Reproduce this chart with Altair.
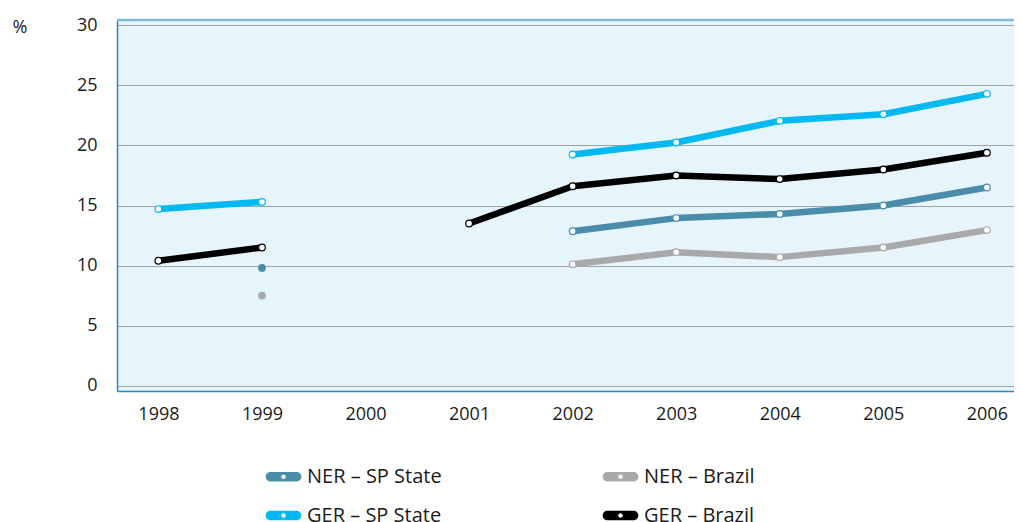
import altair as alt
import pandas as pd

years = [1998, 1999, 2000, 2001, 2002, 2003, 2004, 2005, 2006]
ner_sp = [None, 9.8, None, None, 12.85, 13.95, 14.3, 15.0, 16.5]
ner_br = [None, 7.5, None, None, 10.1, 11.1, 10.7, 11.5, 12.95]
ger_sp = [14.7, 15.3, None, None, 19.25, 20.25, 22.05, 22.6, 24.3]
ger_br = [10.4, 11.5, None, 13.5, 16.6, 17.5, 17.2, 18.0, 19.4]

series_names = ["NER – SP State", "NER – Brazil", "GER – SP State", "GER – Brazil"]
series_values = [ner_sp, ner_br, ger_sp, ger_br]
series_colors = ["#4a8dab", "#a9a9ac", "#00b9f1", "#000000"]
y_ticks = [0, 5, 10, 15, 20, 25, 30]

rows = []
for name, col, vals in zip(series_names, series_colors, series_values):
    seg = 0
    prev = None
    for yr, v in zip(years, vals):
        if v is None:
            if prev is not None:
                seg += 1
            prev = None
            continue
        rows.append({"year": yr, "value": v, "series": name, "col": col,
                     "seg": f"{name}-{seg}"})
        prev = v
df = pd.DataFrame(rows)
counts = df.groupby("seg")["year"].transform("count")
df["isolated"] = counts == 1
lines_df = df[~df["isolated"]]
iso_df = df[df["isolated"]]

x_scale = alt.Scale(domain=[1997.6, 2006.262], nice=False, zero=False)
y_scale = alt.Scale(domain=[-0.45, 30.45], nice=False, zero=False)
color_scale = alt.Scale(domain=series_names, range=series_colors)

capsule = ("M -0.75 -0.27 L 0.75 -0.27 A 0.27 0.27 0 0 1 0.75 0.27 "
           "L -0.75 0.27 A 0.27 0.27 0 0 1 -0.75 -0.27 Z "
           "M 0.13 0 A 0.13 0.13 0 0 0 -0.13 0 A 0.13 0.13 0 0 0 0.13 0 Z")

font = "Open Sans"
fs = 18

x_enc = alt.X("year:Q", scale=x_scale,
              axis=alt.Axis(values=years, format="d", title=None, grid=False, ticks=False,
                            domainColor="#2a8db8", domainWidth=1.5, labelFontSize=fs,
                            labelPadding=14, labelColor="#1a1a1a", labelFont=font))
y_enc = alt.Y("value:Q", scale=y_scale,
              axis=alt.Axis(values=y_ticks, title="%", titleAngle=0, titleX=-105, titleY=-2,
                            titleAlign="left", titleBaseline="top", titleFontSize=fs,
                            titleFontWeight="normal", titleFont=font, titleColor="#1a1a1a",
                            grid=True, gridColor="#a2a2a4", gridWidth=1, ticks=False,
                            domainColor="#2a8db8", domainWidth=1.5, labelFontSize=fs,
                            labelPadding=20, labelColor="#1a1a1a", labelFont=font))

legend = alt.Legend(
    title=None, orient="none", legendX=149, legendY=439, columns=2, direction="horizontal",
    symbolType=capsule, symbolSize=1225, symbolStrokeWidth=0, symbolOpacity=1,
    labelFontSize=20, labelFont=font, labelColor="#1a1a1a", labelOffset=6,
    columnPadding=160, rowPadding=11, labelLimit=300,
)

top_border = alt.Chart(pd.DataFrame({"v": [30.45]})).mark_rule(
    color="#7dbbd7", strokeWidth=2.5
).encode(y=alt.Y("v:Q", scale=y_scale))

lines = alt.Chart(lines_df).mark_line(
    strokeWidth=6.5, strokeCap="round", strokeJoin="round"
).encode(
    x=x_enc, y=y_enc,
    stroke=alt.Stroke("col:N", scale=None),
    detail="seg:N",
)

dots = alt.Chart(lines_df).mark_point(
    filled=True, fill="white", size=45, strokeWidth=1.2, opacity=1
).encode(
    x=alt.X("year:Q", scale=x_scale), y=alt.Y("value:Q", scale=y_scale),
    stroke=alt.Stroke("col:N", scale=None),
)

iso = alt.Chart(iso_df).mark_circle(size=60, opacity=1).encode(
    x=alt.X("year:Q", scale=x_scale), y=alt.Y("value:Q", scale=y_scale),
    color=alt.Color("series:N", scale=color_scale, legend=legend),
)

chart = alt.layer(lines, top_border, dots, iso).properties(
    width=897, height=371,
    autosize=alt.AutoSizeParams(type="none"),
    padding={"left": 109, "top": 12, "right": 0, "bottom": 140},
    background="white",
).configure_view(fill="#e6f4fc", stroke=None)

chart.save("out.html", embed_options={"renderer": "svg", "actions": False})
